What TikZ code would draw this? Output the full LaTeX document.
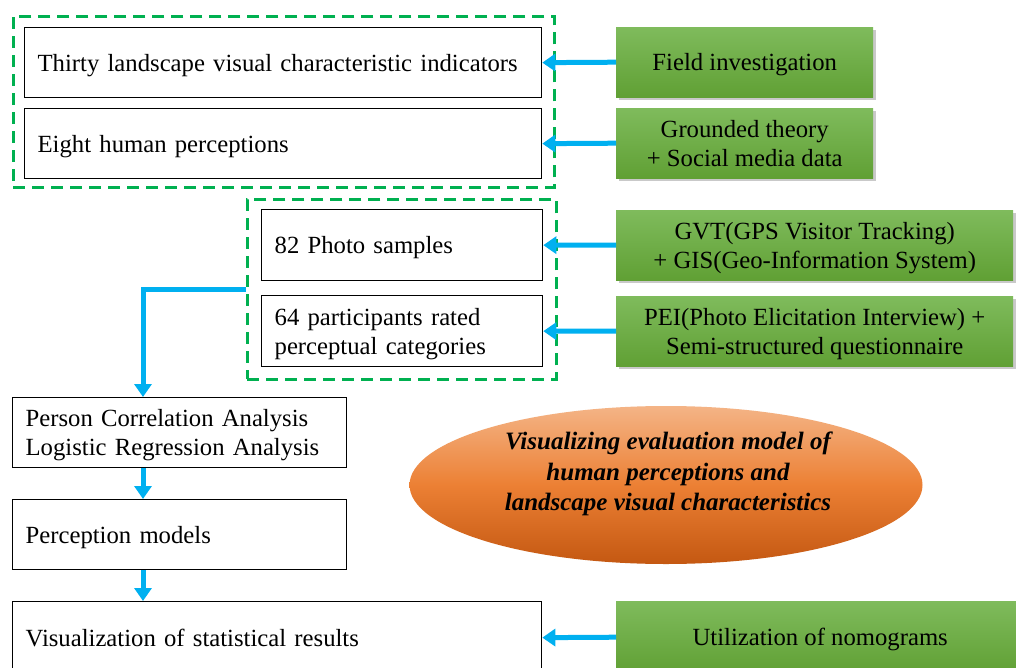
\documentclass[tikz,border=0pt]{standalone}
\usepackage{fontspec}
\setmainfont{Liberation Serif}
\usetikzlibrary{arrows.meta,shapes.geometric,shadows,calc}
\definecolor{arrowblue}{RGB}{0,176,240}
\definecolor{dashgreen}{RGB}{0,176,80}
\definecolor{gtop}{RGB}{127,187,92}
\definecolor{gbot}{RGB}{96,160,52}
\definecolor{otop}{RGB}{244,180,134}
\definecolor{omid}{RGB}{236,128,52}
\definecolor{obot}{RGB}{196,88,18}
\newcommand{\twolines}[2]{\vbox{\hbox{#1}\hbox{#2}}}
\tikzset{
  wbox/.style={draw=black, line width=1.3pt, fill=white, rectangle, anchor=north west,
    align=left, inner xsep=13pt, inner ysep=0pt, text depth=0pt, font=\fontsize{24.7}{29}\selectfont},
  gbox/.style={rectangle, anchor=north west, align=center, inner sep=0pt, text depth=0pt,
    top color=gtop, bottom color=gbot, draw=none,
    drop shadow={shadow xshift=3pt, shadow yshift=-3pt, opacity=0.35, fill=black!60},
    font=\fontsize{24.7}{29}\selectfont},
  dbox/.style={draw=dashgreen, line width=2.6pt, dash pattern=on 12pt off 7pt, rectangle,
    anchor=north west, inner sep=0pt},
  arr/.style={draw=arrowblue, line width=5pt, -{Triangle[length=13pt,width=17pt]}},
}
\begin{document}
\begin{tikzpicture}[x=1pt,y=-1pt]
\clip (0,0) rectangle (1016,668);
\useasboundingbox (0,0) rectangle (1016,668);
\fill[white] (0,0) rectangle (1016,668);

% dashed groups
\node[dbox, minimum width=541pt, minimum height=171pt] (d1) at (12,15) {};
\node[dbox, minimum width=309pt, minimum height=180pt] (d2) at (246,198) {};

% white boxes
\node[wbox, minimum width=517pt, minimum height=70pt, text width=491pt] (thirty) at (24,27) {Thirty landscape visual characteristic indicators};
\node[wbox, minimum width=517pt, minimum height=70pt, text width=491pt] (eight) at (24,108) {Eight human perceptions};
\node[wbox, minimum width=281pt, minimum height=71pt, text width=255pt] (photo) at (261,209) {82 Photo samples};
\node[wbox, minimum width=281pt, minimum height=71pt, text width=255pt] (part) at (261,295) {\twolines{64 participants rated}{perceptual categories}};
\node[wbox, minimum width=334pt, minimum height=70pt, text width=308pt] (pca) at (12,397) {\twolines{Person Correlation Analysis}{Logistic Regression Analysis}};
\node[wbox, minimum width=334pt, minimum height=70pt, text width=308pt] (pm) at (12,499) {Perception models};
\node[wbox, minimum width=529pt, minimum height=72pt, text width=503pt] (vis) at (12,601) {Visualization of statistical results};

% green boxes
\node[gbox, minimum width=257pt, minimum height=70pt] (field) at (616,27) {Field investigation};
\node[gbox, minimum width=257pt, minimum height=70pt] (ground) at (616,108) {Grounded theory\\+ Social media data};
\node[gbox, minimum width=397pt, minimum height=70pt] (gvt) at (616,210) {GVT(GPS Visitor Tracking)\\+ GIS(Geo-Information System)};
\node[gbox, minimum width=397pt, minimum height=70pt] (pei) at (616,296) {PEI(Photo Elicitation Interview) +\\Semi-structured questionnaire};
\node[gbox, minimum width=408pt, minimum height=72pt] (util) at (616,601) {Utilization of nomograms};

% ellipse
\node[ellipse, minimum width=513pt, minimum height=158pt, inner sep=0pt,
  top color=otop, bottom color=obot, middle color=omid] (ell) at (666,485) {};
\node[align=center, inner sep=0pt, font=\fontsize{25}{30.5}\selectfont\bfseries\itshape]
  (elltext) at (668,474)
  {Visualizing evaluation model of\\human perceptions and\\landscape visual characteristics};

% connectors
\draw[arr] (field.west) -- (thirty.east);
\draw[arr] (ground.west) -- (eight.east);
\draw[arr] (gvt.west) -- (photo.east);
\draw[arr] (pei.west) -- (part.east);
\draw[arr] (util.west) -- (vis.east);
\coordinate (cx) at (143,0);
\draw[arr] (d2.west) -| (pca.north -| cx);
\draw[arr] (pca.south -| cx) -- (pm.north -| cx);
\draw[arr] (pm.south -| cx) -- (vis.north -| cx);
\end{tikzpicture}
\end{document}
